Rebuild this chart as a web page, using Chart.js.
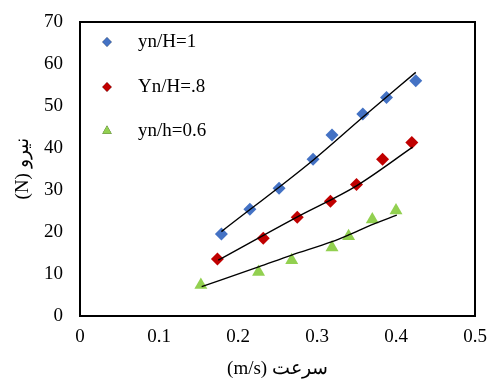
<!DOCTYPE html>
<html><head><meta charset="utf-8">
<script src="https://cdn.jsdelivr.net/npm/chart.js@4"></script>
<style>html,body{margin:0;padding:0;background:#fff}#wrap{width:488px;height:380px}</style>
</head><body><div id="wrap"><canvas id="c"></canvas></div>
<script>
const seriesLabels = ["yn/H=1", "Yn/H=.8", "yn/h=0.6"];
const xTitle = "(m/s) سرعت";
const yTitle = "(N) نیرو";

const blueX = [0.179, 0.215, 0.252, 0.295, 0.319, 0.358, 0.388, 0.425];
const blueY = [19.5, 25.4, 30.4, 37.3, 43.1, 48.1, 52.0, 56.0];
const redX = [0.174, 0.232, 0.275, 0.317, 0.350, 0.383, 0.420];
const redY = [13.6, 18.5, 23.5, 27.3, 31.3, 37.3, 41.3];
const greenX = [0.153, 0.226, 0.268, 0.319, 0.340, 0.370, 0.400];
const greenY = [7.4, 10.5, 13.3, 16.3, 19.0, 23.0, 25.1];

// trend lines
const blueTrendX = [0.179, 0.295, 0.359, 0.425];
const blueTrendY = [20.1, 37.1, 47.5, 58.0];
const redTrendX = [0.175, 0.274, 0.350, 0.421];
const redTrendY = [13.3, 23.5, 31.0, 40.2];
const greenTrendX = [0.154, 0.226, 0.268, 0.319, 0.340, 0.369, 0.401];
const greenTrendY = [7.0, 11.7, 14.5, 17.7, 19.3, 21.7, 24.0];

const colors = ["#4472C4", "#C00000", "#92D050"];
const styles = ["rectRot", "rectRot", "triangle"];
const radii = [6.5, 6.5, 7.5];

const zip = (xs, ys) => xs.map((x, i) => ({x, y: ys[i]}));
const FONT = "'Liberation Serif', 'Times New Roman', serif";

const pts = [[blueX, blueY], [redX, redY], [greenX, greenY]];
const trends = [[blueTrendX, blueTrendY], [redTrendX, redTrendY], [greenTrendX, greenTrendY]];

const datasets = [];
trends.forEach(([xs, ys]) => datasets.push({
  data: zip(xs, ys), showLine: true, borderColor: "#000", borderWidth: 1.4,
  pointRadius: 0, cubicInterpolationMode: "monotone", fill: false
}));
pts.forEach(([xs, ys], i) => datasets.push({
  label: seriesLabels[i], data: zip(xs, ys), showLine: false,
  pointStyle: styles[i], pointRadius: radii[i], pointHoverRadius: radii[i],
  backgroundColor: colors[i], borderColor: colors[i], borderWidth: 0
}));

const boxPlugin = {
  id: "box",
  afterDraw(chart) {
    const {ctx, chartArea: a} = chart;
    ctx.save();
    ctx.strokeStyle = "#000"; ctx.lineWidth = 2;
    ctx.strokeRect(a.left, a.top, a.right - a.left, a.bottom - a.top);
    // legend
    const lx = a.left + 27, tx = a.left + 58;
    const rows = [a.top + 20, a.top + 65, a.top + 109];
    ctx.font = "19px " + FONT; ctx.fillStyle = "#000"; ctx.textBaseline = "middle";
    seriesLabels.forEach((lab, i) => {
      Chart.helpers.drawPoint(ctx, {pointStyle: styles[i], radius: radii[i] * 0.72, borderWidth: 0}, lx, rows[i]);
      ctx.fillStyle = colors[i]; ctx.fill();
      ctx.fillStyle = "#000";
      ctx.fillText(lab, tx, rows[i]);
    });
    ctx.restore();
  }
};

new Chart(document.getElementById("c"), {
  type: "scatter",
  data: {datasets},
  options: {
    responsive: true, maintainAspectRatio: false, animation: false,
    layout: {padding: {top: 22, right: 13, left: 0, bottom: 0}},
    plugins: {legend: {display: false}, tooltip: {enabled: false}},
    scales: {
      x: {
        type: "linear", min: 0, max: 0.5,
        grid: {display: false, drawTicks: false},
        border: {display: true, color: "#000", width: 2},
        ticks: {stepSize: 0.1, color: "#000", font: {family: FONT, size: 19}, padding: 10,
          callback: v => Number(v.toFixed(1)).toString()},
        title: {display: true, text: xTitle, color: "#000", font: {family: FONT, size: 19}, padding: {top: -1, bottom: 0}},
        afterFit(s) { s.height = 64; s.paddingLeft = 0; s.paddingRight = 0; }
      },
      y: {
        min: 0, max: 70,
        grid: {display: false, drawTicks: false},
        border: {display: true, color: "#000", width: 2},
        ticks: {stepSize: 10, color: "#000", font: {family: FONT, size: 19}, padding: 17},
        title: {display: true, text: yTitle, color: "#000", font: {family: FONT, size: 19}, padding: {top: 12, bottom: 0}},
        afterFit(s) { s.width = 80; s.paddingTop = 0; s.paddingBottom = 0; }
      }
    }
  },
  plugins: [boxPlugin]
});
</script></body></html>
